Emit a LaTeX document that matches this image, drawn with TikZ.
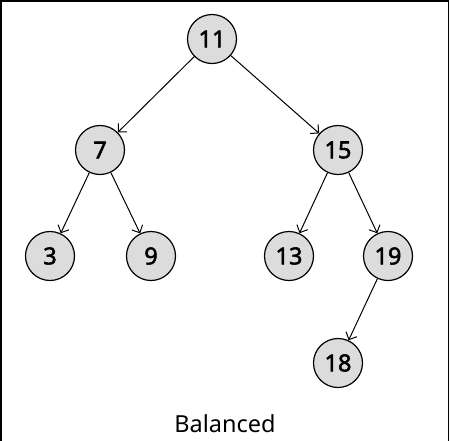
\documentclass[tikz,border=0pt]{standalone}
\usepackage{fontspec}
\setmainfont{Noto Sans}
\newfontfamily\numfont{Noto Sans}[FakeBold=2.2]
\usetikzlibrary{arrows.meta}
\definecolor{nodefill}{HTML}{DCDCDC}
\begin{document}
\begin{tikzpicture}[x=1pt,y=-1pt,
  treenode/.style={circle,draw=black,line width=1.2pt,fill=nodefill,
    minimum size=49pt,inner sep=0pt,font=\numfont\fontsize{23.5}{25}\selectfont},
  edge/.style={line width=1pt,-{Straight Barb[length=6pt,width=12pt,line width=1pt]}}]
\useasboundingbox (0,0) rectangle (450,440);
% frame: top, left and right sides
\draw[line width=1.6pt] (1,441) -- (1,1) -- (448.5,1) -- (448.5,441);
% nodes
\node[treenode] (n11) at (212,39) {11};
\node[treenode] (n7)  at (100,150) {7};
\node[treenode] (n15) at (338,150) {15};
\node[treenode] (n3)  at (50,256) {3};
\node[treenode] (n9)  at (151,256) {9};
\node[treenode] (n13) at (289,256) {13};
\node[treenode] (n19) at (388,256) {19};
\node[treenode] (n18) at (338,363) {18};
% edges
\draw[edge] (n11) -- (n7);
\draw[edge] (n11) -- (n15);
\draw[edge] (n7) -- (n3);
\draw[edge] (n7) -- (n9);
\draw[edge] (n15) -- (n13);
\draw[edge] (n15) -- (n19);
\draw[edge] (n19) -- (n18);
% caption
\node[font=\fontsize{23.5}{25}\selectfont] (cap) at (225,424) {Balanced};
\end{tikzpicture}
\end{document}
